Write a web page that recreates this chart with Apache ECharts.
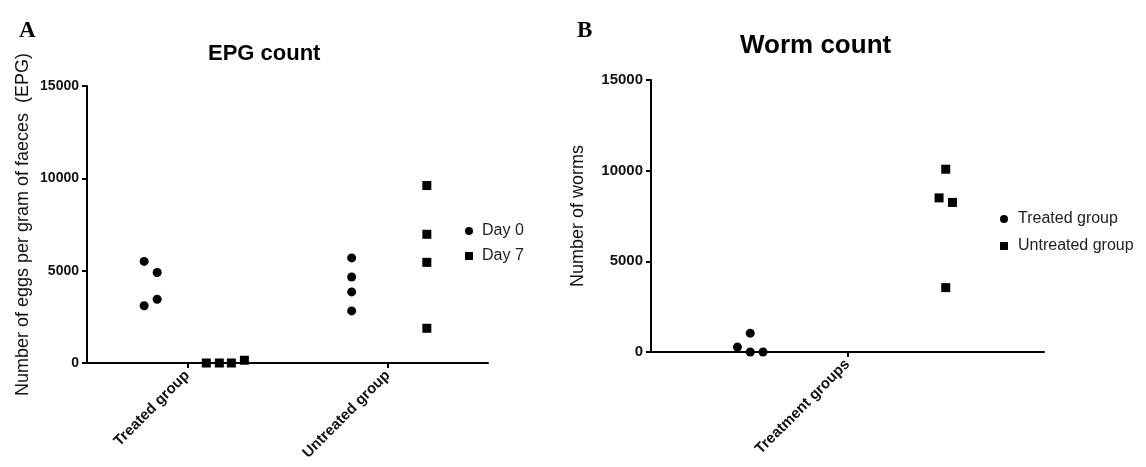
<!DOCTYPE html>
<html>
<head>
<meta charset="utf-8">
<script src="https://cdn.jsdelivr.net/npm/echarts@6/dist/echarts.min.js"></script>
<style>
html,body{margin:0;padding:0;background:#fff;}
#chart{width:1146px;height:467px;}
</style>
</head>
<body>
<div id="chart"></div>
<script>
// ---------- Panel A: EPG count ----------
const epgGroups = ['Treated group', 'Untreated group'];
const epgGroupPos = [1, 3];
const epgTicks = [0, 5000, 10000, 15000];
const epgDay0Treated = [5500, 4900, 3450, 3100];
const epgDay0TreatedJitter = [-0.43, -0.30, -0.30, -0.43];
const epgDay0Untreated = [5690, 4660, 3850, 2820];
const epgDay0UntreatedJitter = [-0.36, -0.36, -0.36, -0.36];
const epgDay7Treated = [0, 0, 0, 150];
const epgDay7TreatedJitter = [0.19, 0.32, 0.44, 0.57];
const epgDay7Untreated = [9610, 6970, 5450, 1880];
const epgDay7UntreatedJitter = [0.39, 0.39, 0.39, 0.39];

// ---------- Panel B: Worm count ----------
const wormGroupLabel = ['Treatment groups'];
const wormTicks = [0, 5000, 10000, 15000];
const wormTreated = [270, 1040, 0, 0];
const wormTreatedJitter = [-0.56, -0.495, -0.495, -0.43];
const wormUntreated = [10080, 8500, 8250, 3550];
const wormUntreatedJitter = [0.50, 0.466, 0.534, 0.50];

const FONT = "'Liberation Sans', Arial, sans-serif";
const SQUARE = 'path://M0,0L10,0L10,10L0,10Z';

function pts(center, jitter, vals) {
  return vals.map((v, i) => [center + jitter[i], v]);
}

const axisLineStyle = { show: true, lineStyle: { color: '#000', width: 2 } };
const axisTickStyle = { show: true, length: 5, lineStyle: { color: '#000', width: 2 } };
const plainNum = v => String(v);

const chart = echarts.init(document.getElementById('chart'), null, { renderer: 'canvas' });

chart.setOption({
  animation: false,
  backgroundColor: '#fff',
  title: [
    { text: 'A', left: 14, top: 15, textStyle: { fontFamily: "'Liberation Serif', 'Times New Roman', serif", fontWeight: 'bold', fontSize: 23, color: '#000' } },
    { text: 'EPG count', left: 203, top: 38, textStyle: { fontFamily: FONT, fontWeight: 'bold', fontSize: 22, color: '#000' } },
    { text: 'B', left: 572, top: 15, textStyle: { fontFamily: "'Liberation Serif', 'Times New Roman', serif", fontWeight: 'bold', fontSize: 23, color: '#000' } },
    { text: 'Worm count', left: 735, top: 28, textStyle: { fontFamily: FONT, fontWeight: 'bold', fontSize: 26, color: '#000' } }
  ],
  legend: [
    {
      orient: 'vertical', left: 465, top: 223, padding: 0, itemGap: 9,
      itemWidth: 16, itemHeight: 8, selectedMode: false, symbolKeepAspect: true,
      itemStyle: { opacity: 1 },
      textStyle: { fontFamily: FONT, fontSize: 16, color: '#222', lineHeight: 16 },
      data: [{ name: 'Day 0', icon: 'circle' }, { name: 'Day 7', icon: SQUARE }]
    },
    {
      orient: 'vertical', left: 1000, top: 211, padding: 0, itemGap: 11,
      itemWidth: 18, itemHeight: 8, selectedMode: false, symbolKeepAspect: true,
      itemStyle: { opacity: 1 },
      textStyle: { fontFamily: FONT, fontSize: 16, color: '#222', lineHeight: 16 },
      data: [{ name: 'Treated group', icon: 'circle' }, { name: 'Untreated group', icon: SQUARE }]
    }
  ],
  grid: [
    { left: 87, top: 86, width: 401, height: 277, containLabel: false },
    { left: 651, top: 80, width: 393, height: 272, containLabel: false }
  ],
  xAxis: [
    {
      gridIndex: 0, type: 'value', min: 0, max: 4, interval: 1,
      axisLine: axisLineStyle,
      axisTick: Object.assign({}, axisTickStyle, { customValues: epgGroupPos }),
      axisLabel: {
        customValues: epgGroupPos, rotate: 45, margin: 10,
        fontFamily: FONT, fontWeight: 'bold', fontSize: 15, color: '#111',
        formatter: v => epgGroups[epgGroupPos.indexOf(v)] || ''
      },
      splitLine: { show: false }
    },
    {
      gridIndex: 1, type: 'value', min: 0, max: 2, interval: 1,
      axisLine: axisLineStyle,
      axisTick: Object.assign({}, axisTickStyle, { customValues: [1] }),
      axisLabel: {
        customValues: [1], rotate: 45, margin: 10,
        fontFamily: FONT, fontWeight: 'bold', fontSize: 15, color: '#111',
        formatter: v => (v === 1 ? wormGroupLabel[0] : '')
      },
      splitLine: { show: false }
    }
  ],
  yAxis: [
    {
      gridIndex: 0, type: 'value', min: epgTicks[0], max: epgTicks[epgTicks.length - 1], interval: epgTicks[1] - epgTicks[0],
      name: 'Number of eggs per gram of faeces  (EPG)', nameLocation: 'middle', nameGap: 55,
      nameTextStyle: { fontFamily: FONT, fontSize: 18, color: '#111' },
      axisLine: axisLineStyle, axisTick: axisTickStyle,
      axisLabel: { margin: 8, fontFamily: FONT, fontWeight: 'bold', fontSize: 14, color: '#111', formatter: plainNum },
      splitLine: { show: false }
    },
    {
      gridIndex: 1, type: 'value', min: wormTicks[0], max: wormTicks[wormTicks.length - 1], interval: wormTicks[1] - wormTicks[0],
      name: 'Number of worms', nameLocation: 'middle', nameGap: 64,
      nameTextStyle: { fontFamily: FONT, fontSize: 18, color: '#111' },
      axisLine: axisLineStyle, axisTick: axisTickStyle,
      axisLabel: { margin: 8, fontFamily: FONT, fontWeight: 'bold', fontSize: 15, color: '#111', formatter: plainNum },
      splitLine: { show: false }
    }
  ],
  series: [
    {
      name: 'Day 0', type: 'scatter', xAxisIndex: 0, yAxisIndex: 0,
      symbol: 'circle', symbolSize: 9, clip: false,
      itemStyle: { color: '#000', opacity: 1 },
      data: pts(epgGroupPos[0], epgDay0TreatedJitter, epgDay0Treated)
        .concat(pts(epgGroupPos[1], epgDay0UntreatedJitter, epgDay0Untreated))
    },
    {
      name: 'Day 7', type: 'scatter', xAxisIndex: 0, yAxisIndex: 0,
      symbol: 'rect', symbolSize: 9, clip: false,
      itemStyle: { color: '#000', opacity: 1 },
      data: pts(epgGroupPos[0], epgDay7TreatedJitter, epgDay7Treated)
        .concat(pts(epgGroupPos[1], epgDay7UntreatedJitter, epgDay7Untreated))
    },
    {
      name: 'Treated group', type: 'scatter', xAxisIndex: 1, yAxisIndex: 1,
      symbol: 'circle', symbolSize: 9, clip: false,
      itemStyle: { color: '#000', opacity: 1 },
      data: pts(1, wormTreatedJitter, wormTreated)
    },
    {
      name: 'Untreated group', type: 'scatter', xAxisIndex: 1, yAxisIndex: 1,
      symbol: 'rect', symbolSize: 9, clip: false,
      itemStyle: { color: '#000', opacity: 1 },
      data: pts(1, wormUntreatedJitter, wormUntreated)
    }
  ]
});
</script>
</body>
</html>
